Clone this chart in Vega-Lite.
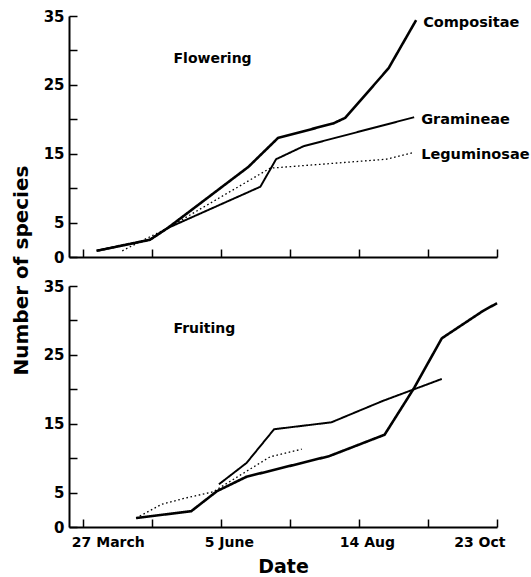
{
  "$schema": "https://vega.github.io/schema/vega-lite/v6.json",
  "background": "white",
  "padding": {"left": 11, "top": 9, "right": 5, "bottom": 0},
  "bounds": "flush",
  "spacing": 29,
  "config": {
    "view": {"stroke": null},
    "font": "DejaVu Sans",
    "axis": {
      "domainColor": "black",
      "domainWidth": 2,
      "tickColor": "black",
      "tickWidth": 1.5,
      "tickSize": -8,
      "labelColor": "black",
      "labelFont": "DejaVu Sans",
      "labelFontWeight": "bold",
      "titleFont": "DejaVu Sans",
      "titleFontWeight": "bold",
      "titleColor": "black",
      "grid": false,
      "labelOverlap": false
    }
  },
  "data": {
    "values": [
      {"panel": "Flowering", "family": "Compositae", "date": "1980-04-03", "n": 0.9},
      {"panel": "Flowering", "family": "Compositae", "date": "1980-04-30", "n": 2.5},
      {"panel": "Flowering", "family": "Compositae", "date": "1980-05-09", "n": 4.2},
      {"panel": "Flowering", "family": "Compositae", "date": "1980-06-19", "n": 13.1},
      {"panel": "Flowering", "family": "Compositae", "date": "1980-07-04", "n": 17.3},
      {"panel": "Flowering", "family": "Compositae", "date": "1980-08-01", "n": 19.4},
      {"panel": "Flowering", "family": "Compositae", "date": "1980-08-07", "n": 20.2},
      {"panel": "Flowering", "family": "Compositae", "date": "1980-08-29", "n": 27.4},
      {"panel": "Flowering", "family": "Compositae", "date": "1980-09-12", "n": 34.4},
      {"panel": "Flowering", "family": "Gramineae", "date": "1980-04-03", "n": 0.9},
      {"panel": "Flowering", "family": "Gramineae", "date": "1980-04-30", "n": 2.5},
      {"panel": "Flowering", "family": "Gramineae", "date": "1980-05-09", "n": 4.2},
      {"panel": "Flowering", "family": "Gramineae", "date": "1980-06-25", "n": 10.2},
      {"panel": "Flowering", "family": "Gramineae", "date": "1980-07-03", "n": 14.2},
      {"panel": "Flowering", "family": "Gramineae", "date": "1980-07-17", "n": 16.1},
      {"panel": "Flowering", "family": "Gramineae", "date": "1980-09-11", "n": 20.3},
      {"panel": "Flowering", "family": "Leguminosae", "date": "1980-04-16", "n": 0.9},
      {"panel": "Flowering", "family": "Leguminosae", "date": "1980-04-27", "n": 2.5},
      {"panel": "Flowering", "family": "Leguminosae", "date": "1980-05-09", "n": 4.2},
      {"panel": "Flowering", "family": "Leguminosae", "date": "1980-06-30", "n": 12.9},
      {"panel": "Flowering", "family": "Leguminosae", "date": "1980-08-28", "n": 14.2},
      {"panel": "Flowering", "family": "Leguminosae", "date": "1980-09-11", "n": 15.2},
      {"panel": "Fruiting", "family": "Compositae", "date": "1980-04-23", "n": 1.3},
      {"panel": "Fruiting", "family": "Compositae", "date": "1980-05-21", "n": 2.3},
      {"panel": "Fruiting", "family": "Compositae", "date": "1980-06-03", "n": 5.2},
      {"panel": "Fruiting", "family": "Compositae", "date": "1980-06-18", "n": 7.3},
      {"panel": "Fruiting", "family": "Compositae", "date": "1980-07-30", "n": 10.3},
      {"panel": "Fruiting", "family": "Compositae", "date": "1980-08-27", "n": 13.4},
      {"panel": "Fruiting", "family": "Compositae", "date": "1980-09-11", "n": 20.2},
      {"panel": "Fruiting", "family": "Compositae", "date": "1980-09-25", "n": 27.4},
      {"panel": "Fruiting", "family": "Compositae", "date": "1980-10-16", "n": 31.4},
      {"panel": "Fruiting", "family": "Compositae", "date": "1980-10-23", "n": 32.5},
      {"panel": "Fruiting", "family": "Gramineae", "date": "1980-06-04", "n": 6.2},
      {"panel": "Fruiting", "family": "Gramineae", "date": "1980-06-18", "n": 9.3},
      {"panel": "Fruiting", "family": "Gramineae", "date": "1980-07-02", "n": 14.2},
      {"panel": "Fruiting", "family": "Gramineae", "date": "1980-07-31", "n": 15.2},
      {"panel": "Fruiting", "family": "Gramineae", "date": "1980-08-26", "n": 18.3},
      {"panel": "Fruiting", "family": "Gramineae", "date": "1980-09-25", "n": 21.5},
      {"panel": "Fruiting", "family": "Leguminosae", "date": "1980-04-23", "n": 1.3},
      {"panel": "Fruiting", "family": "Leguminosae", "date": "1980-05-06", "n": 3.3},
      {"panel": "Fruiting", "family": "Leguminosae", "date": "1980-05-18", "n": 4.2},
      {"panel": "Fruiting", "family": "Leguminosae", "date": "1980-06-01", "n": 5.1},
      {"panel": "Fruiting", "family": "Leguminosae", "date": "1980-06-30", "n": 10.2},
      {"panel": "Fruiting", "family": "Leguminosae", "date": "1980-07-16", "n": 11.3}
    ]
  },
  "vconcat": [
    {
      "width": 428,
      "height": 241,
      "resolve": {"axis": {"x": "independent", "y": "independent"}},
      "layer": [
        {
          "transform": [{"filter": "datum.panel == 'Flowering'"}],
          "mark": {"type": "line", "color": "black", "strokeCap": "butt"},
          "encoding": {
            "x": {
              "field": "date",
              "type": "temporal",
              "scale": {"type": "utc", "domain": [{"year": 1980, "month": 3, "date": 20, "utc": true}, {"year": 1980, "month": 10, "date": 23, "utc": true}]},
              "axis": {
                "title": null,
                "labels": false,
                "values": [
                  {"year": 1980, "month": 3, "date": 27, "utc": true},
                  {"year": 1980, "month": 5, "date": 1, "utc": true},
                  {"year": 1980, "month": 6, "date": 5, "utc": true},
                  {"year": 1980, "month": 7, "date": 10, "utc": true},
                  {"year": 1980, "month": 8, "date": 14, "utc": true},
                  {"year": 1980, "month": 9, "date": 18, "utc": true},
                  {"year": 1980, "month": 10, "date": 23, "utc": true}
                ]
              }
            },
            "y": {
              "field": "n",
              "type": "quantitative",
              "scale": {"domain": [0, 35], "nice": false},
              "axis": {
                "title": "Number of species",
                "titleFontSize": 20,
                "titleY": 254,
                "titlePadding": 12,
                "values": [0, 5, 10, 15, 20, 25, 30, 35],
                "labelExpr": "(datum.value % 10 == 5 || datum.value == 0) ? datum.label : ''",
                "labelFontSize": 15,
                "labelPadding": 13
              }
            },
            "strokeWidth": {"field": "family", "type": "nominal", "scale": {"domain": ["Compositae", "Gramineae", "Leguminosae"], "range": [2.6, 1.3, 1.5]}, "legend": null},
            "strokeDash": {"field": "family", "type": "nominal", "scale": {"domain": ["Compositae", "Gramineae", "Leguminosae"], "range": [[1, 0], [1, 0], [1.6, 2.6]]}, "legend": null}
          }
        },
        {
          "transform": [
            {"filter": "datum.panel == 'Flowering'"},
            {"joinaggregate": [{"op": "max", "field": "date", "as": "last"}], "groupby": ["family"]},
            {"filter": "time(datum.date) == time(datum.last)"}
          ],
          "mark": {"type": "text", "align": "left", "baseline": "middle", "dx": 7, "dy": 3, "font": "DejaVu Sans", "fontWeight": "bold", "fontSize": 14.5, "color": "black"},
          "encoding": {
            "x": {"field": "date", "type": "temporal", "axis": null},
            "y": {"field": "n", "type": "quantitative", "axis": null},
            "text": {"field": "family"}
          }
        },
        {
          "data": {"values": [{"label": "Flowering"}]},
          "mark": {"type": "text", "align": "left", "baseline": "middle", "font": "DejaVu Sans", "fontWeight": "bold", "fontSize": 14, "color": "black"},
          "encoding": {
            "x": {"datum": 326937600000, "type": "temporal", "axis": null},
            "y": {"datum": 28.75, "type": "quantitative", "axis": null},
            "text": {"field": "label", "type": "nominal"}
          }
        }
      ]
    },
    {
      "width": 428,
      "height": 241,
      "resolve": {"axis": {"x": "independent", "y": "independent"}},
      "layer": [
        {
          "transform": [{"filter": "datum.panel == 'Fruiting'"}],
          "mark": {"type": "line", "color": "black", "strokeCap": "butt"},
          "encoding": {
            "x": {
              "field": "date",
              "type": "temporal",
              "scale": {"type": "utc", "domain": [{"year": 1980, "month": 3, "date": 20, "utc": true}, {"year": 1980, "month": 10, "date": 23, "utc": true}]},
              "axis": {
                "title": "Date",
                "titleFontSize": 19,
                "titlePadding": 8,
                "labelFontSize": 14,
                "labelPadding": 16,
                "labelOffset": {"condition": {"test": "utcmonth(datum.value) == 2", "value": 25}, "value": 8},
                "labelExpr": "utcFormat(datum.value, '%m%d') == '0327' ? '27 March' : utcFormat(datum.value, '%m%d') == '0605' ? '5 June' : utcFormat(datum.value, '%m%d') == '0814' ? '14 Aug' : utcFormat(datum.value, '%m%d') == '1023' ? '23 Oct' : ''",
                "values": [
                  {"year": 1980, "month": 3, "date": 27, "utc": true},
                  {"year": 1980, "month": 5, "date": 1, "utc": true},
                  {"year": 1980, "month": 6, "date": 5, "utc": true},
                  {"year": 1980, "month": 7, "date": 10, "utc": true},
                  {"year": 1980, "month": 8, "date": 14, "utc": true},
                  {"year": 1980, "month": 9, "date": 18, "utc": true},
                  {"year": 1980, "month": 10, "date": 23, "utc": true}
                ]
              }
            },
            "y": {
              "field": "n",
              "type": "quantitative",
              "scale": {"domain": [0, 35], "nice": false},
              "axis": {
                "title": null,
                "values": [0, 5, 10, 15, 20, 25, 30, 35],
                "labelExpr": "(datum.value % 10 == 5 || datum.value == 0) ? datum.label : ''",
                "labelFontSize": 15,
                "labelPadding": 13
              }
            },
            "strokeWidth": {"field": "family", "type": "nominal", "scale": {"domain": ["Compositae", "Gramineae", "Leguminosae"], "range": [2.6, 1.3, 1.5]}, "legend": null},
            "strokeDash": {"field": "family", "type": "nominal", "scale": {"domain": ["Compositae", "Gramineae", "Leguminosae"], "range": [[1, 0], [1, 0], [1.6, 2.6]]}, "legend": null}
          }
        },
        {
          "data": {"values": [{"label": "Fruiting"}]},
          "mark": {"type": "text", "align": "left", "baseline": "middle", "font": "DejaVu Sans", "fontWeight": "bold", "fontSize": 14, "color": "black"},
          "encoding": {
            "x": {"datum": 326937600000, "type": "temporal", "axis": null},
            "y": {"datum": 28.75, "type": "quantitative", "axis": null},
            "text": {"field": "label", "type": "nominal"}
          }
        }
      ]
    }
  ]
}
